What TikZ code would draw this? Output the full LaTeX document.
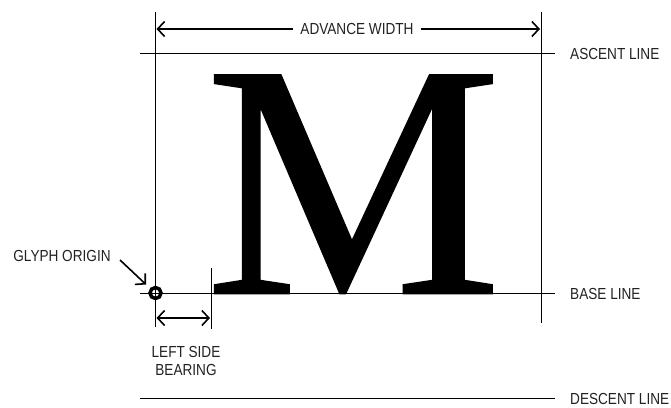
\documentclass[tikz,border=0pt]{standalone}
\usepackage{fontspec}
\setmainfont{Liberation Sans}
\newfontfamily\labfont[FakeStretch=0.85]{Liberation Sans}
\newfontfamily\glyphfont[FakeBold=0.45]{Liberation Serif}
\usetikzlibrary{arrows.meta}
\definecolor{ink}{HTML}{222222}
\tikzset{
  thin line/.style={line width=1pt, draw=black},
  dimarrow/.style={line width=1.6pt, draw=black, {Straight Barb[length=7pt,width=15pt]}-{Straight Barb[length=7pt,width=15pt]}},
  pointer/.style={line width=1.6pt, draw=black, -{Straight Barb[length=7pt,width=15pt]}},
  lab/.style={font=\labfont\fontsize{16}{18.5}\selectfont, text=ink, inner sep=0pt},
}
\begin{document}
\begin{tikzpicture}[x=1pt,y=-1pt]
\useasboundingbox (0,0) rectangle (671,407);
% glyph
\node[font=\glyphfont\fontsize{334}{334}\selectfont, inner sep=0pt, anchor=base] (M) at (353.5,293.5) {M};
% key coordinates
\coordinate (Ltop) at (155.5,12);
\coordinate (Lbot) at (155.5,327);
\coordinate (Rtop) at (541,12);
\coordinate (Rbot) at (541,323);
\coordinate (Aleft) at (140,53);
\coordinate (Aright) at (555,53);
\coordinate (Bleft) at (140,293);
\coordinate (Bright) at (555,293);
\coordinate (Dleft) at (140,398.5);
\coordinate (Dright) at (555,398.5);
\coordinate (LSBtop) at (211,268);
\coordinate (LSBbot) at (211,329);
% lines
\draw[thin line] (Ltop) -- (Lbot);
\draw[thin line] (Rtop) -- (Rbot);
\draw[thin line] (Aleft) -- (Aright);
\draw[thin line] (Bleft) -- (Bright);
\draw[thin line] (Dleft) -- (Dright);
\draw[thin line] (LSBtop) -- (LSBbot);
% advance width
\coordinate (AWl) at (156.5,29);
\coordinate (AWr) at (540,29);
\draw[dimarrow] (AWl) -- (AWr);
\node[lab, fill=white, inner xsep=7pt, inner ysep=3pt] (AW) at (357,29) {ADVANCE WIDTH};
% left side bearing
\coordinate (LSBl) at (156.5,318);
\coordinate (LSBr) at (210,318);
\draw[dimarrow] (LSBl) -- (LSBr);
\node[lab, align=center] (LSB) at (186,361) {LEFT SIDE\\BEARING};
% labels
\node[lab, anchor=west] (AL) at (570,53.5) {ASCENT LINE};
\node[lab, anchor=west] (BL) at (570,293.5) {BASE LINE};
\node[lab, anchor=west] (DL) at (570,399) {DESCENT LINE};
\node[lab] (GO) at (62,255.5) {GLYPH ORIGIN};
% origin
\node[circle, draw=black, line width=3.5pt, minimum size=11pt, inner sep=0pt] (O) at (155.5,293) {};
\coordinate (Pstart) at (120,260);
\coordinate (Pend) at (146,284.5);
\draw[pointer] (Pstart) -- (Pend);
\end{tikzpicture}
\end{document}
